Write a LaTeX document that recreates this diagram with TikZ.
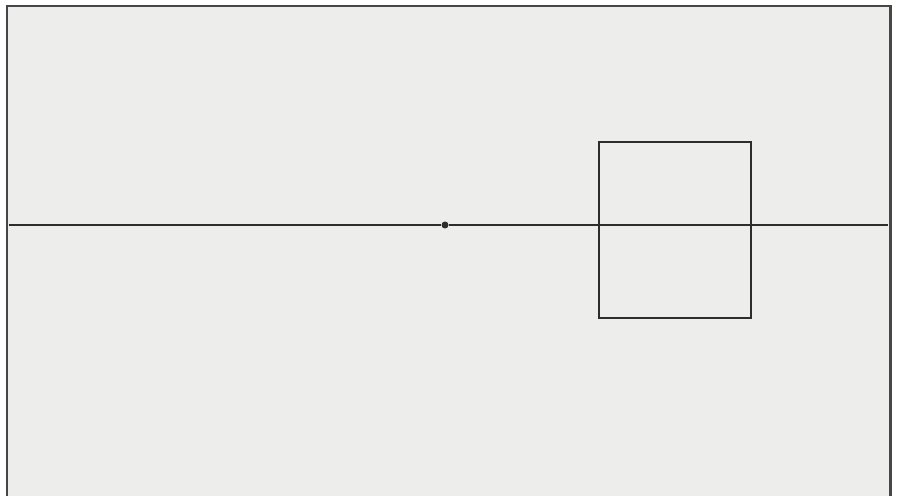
\documentclass[tikz,border=0pt]{standalone}
\usepackage{xcolor}
\definecolor{paper}{RGB}{237,237,235}
\definecolor{frame}{RGB}{70,70,70}
\definecolor{pencil}{RGB}{45,45,45}
\usetikzlibrary{positioning}

\begin{document}
\begin{tikzpicture}[
  x=0.02cm, y=-0.02cm,
  stroke/.style={draw=pencil, line width=0.8pt},
  boxnode/.style={draw=pencil, line width=0.8pt, minimum width=3.04cm, minimum height=3.52cm, inner sep=0pt},
  dotnode/.style={circle, fill=pencil, minimum size=0.14cm, inner sep=0pt}
]
  \useasboundingbox (0,0) rectangle (898,496);

  %% Paper and frame
  \fill[paper] (7,6) rectangle (890,500);
  \draw[frame, line width=1.7pt] (7,500) -- (7,6) -- (890,6) -- (890,500);

  %% Horizon line with point
  \coordinate (left) at (9,225);
  \coordinate (right) at (888,225);
  \node[dotnode] (pt) at (445,225) {};
  \draw[stroke] (left) -- (pt) -- (right);

  %% Box
  \node[boxnode] (box) at (675,230) {};
\end{tikzpicture}
\end{document}
